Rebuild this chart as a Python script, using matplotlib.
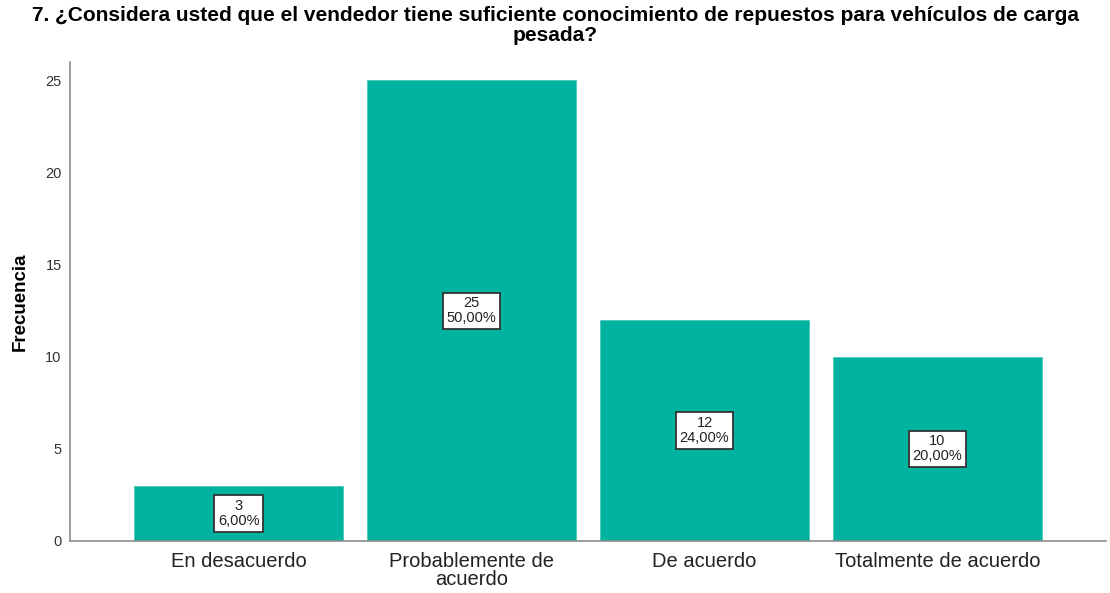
import matplotlib
matplotlib.use("Agg")
import matplotlib.pyplot as plt
import numpy as np

plt.rcParams['font.family'] = ['Liberation Sans', 'DejaVu Sans']

categorias = ["En desacuerdo", "Probablemente de\nacuerdo", "De acuerdo", "Totalmente de acuerdo"]
frecuencias = [3, 25, 12, 10]
porcentajes = ["6,00%", "50,00%", "24,00%", "20,00%"]
titulo = "7. ¿Considera usted que el vendedor tiene suficiente conocimiento de repuestos para vehículos de carga\npesada?"

fig = plt.figure(figsize=(11.1, 5.93), dpi=100)
ax = fig.add_axes([0.0631, 0.0877, 0.9333, 0.8077])

x = np.arange(len(categorias))
ax.bar(x, frecuencias, width=0.897, color="#00B2A0", edgecolor="#3fc4b4", linewidth=0.5)

for xi, f, p in zip(x, frecuencias, porcentajes):
    ax.text(xi, f / 2, f"{f}\n{p}", ha="center", va="center", fontsize=10.5,
            color="#222222", linespacing=1.1,
            bbox=dict(boxstyle="square,pad=0.25", facecolor="white", edgecolor="#333333", linewidth=1.3))

ax.set_xlim(-0.723, 3.723)
ax.set_ylim(0, 26)
ax.set_xticks(x)
ax.set_xticklabels(categorias, fontsize=14.5, color="#222222", linespacing=0.95)
ax.set_yticks([0, 5, 10, 15, 20, 25])
ax.tick_params(axis="both", length=0)
ax.tick_params(axis="y", labelsize=10.5, colors="#333333", pad=6)
ax.tick_params(axis="x", pad=8)

for s in ["top", "right"]:
    ax.spines[s].set_visible(False)
for s in ["left", "bottom"]:
    ax.spines[s].set_color("#8c8c8c")
    ax.spines[s].set_linewidth(1.2)

ax.set_ylabel("Frecuencia", fontsize=13.5, fontweight="bold", labelpad=12)
fig.suptitle(titulo, fontsize=15, fontweight="bold", y=0.99, linespacing=1.1)

fig.savefig("out.png", dpi=100)
